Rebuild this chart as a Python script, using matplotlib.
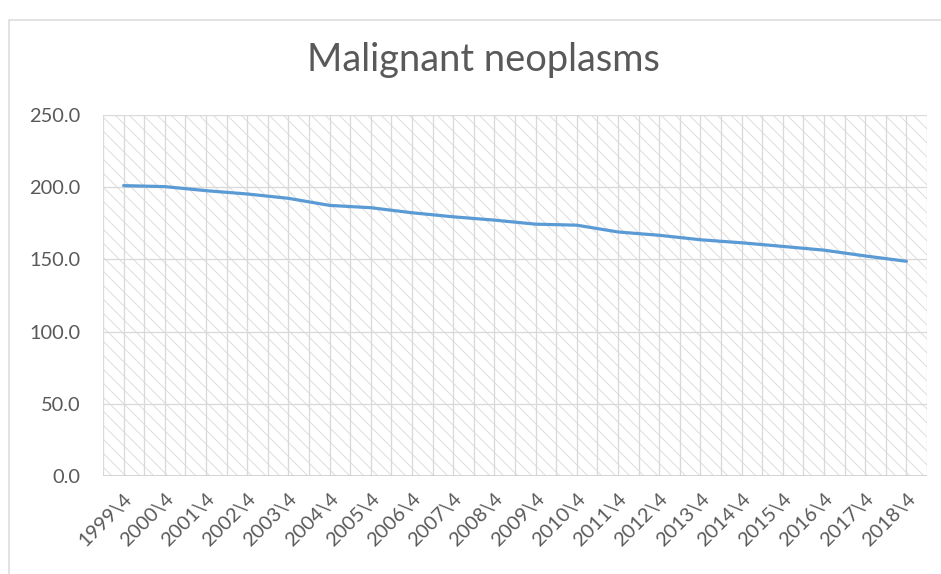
import matplotlib.pyplot as plt
from matplotlib.patches import Rectangle

# Values
years = ['1999\\4', '2000\\4', '2001\\4', '2002\\4', '2003\\4', '2004\\4',
         '2005\\4', '2006\\4', '2007\\4', '2008\\4', '2009\\4', '2010\\4',
         '2011\\4', '2012\\4', '2013\\4', '2014\\4', '2015\\4', '2016\\4',
         '2017\\4', '2018\\4']
rates = [201.1, 200.4, 197.6, 195.3, 192.3, 187.4, 185.8, 182.3, 179.5, 177.2,
         174.4, 173.7, 169.0, 166.7, 163.6, 161.5, 159.0, 156.4, 152.4, 148.7]
y_ticks = [0, 50, 100, 150, 200, 250]

DPI = 84
W, H = 942, 574
TXT = '#595959'
GRID = '#d9d9d9'

plt.rcParams['font.family'] = ['Lato', 'DejaVu Sans']
plt.rcParams['hatch.linewidth'] = 0.8
plt.rcParams['hatch.color'] = '#dcdcdc'


def px(p):
    # pixel -> points at this dpi
    return p * 72.0 / DPI


fig = plt.figure(figsize=(W / DPI, H / DPI), dpi=DPI)

# chart frame (only top and left edges visible in the crop)
fig.patches.append(Rectangle((9 / W, -0.1), 1.2, 1.1 - 20 / H,
                             transform=fig.transFigure, fill=False,
                             edgecolor='#d9d9d9', linewidth=px(1.5)))

ax = fig.add_axes([103 / W, 1 - 476 / H, (927 - 103) / W, (476 - 115) / H])
x = list(range(len(years)))

# hatched plot area
ax.add_patch(Rectangle((-0.5, 0), len(years), 250, facecolor='white',
                       hatch='\\\\', edgecolor='#dcdcdc', linewidth=0, zorder=0))

for v in y_ticks:
    ax.axhline(v, color=GRID, lw=px(1.3), zorder=1)
for i in range(2 * len(years) + 1):
    ax.axvline(-0.5 + i * 0.5, color=GRID, lw=px(1.3), zorder=1)
ax.axhline(0, color='#d0d0d0', lw=px(1.8), zorder=1)

ax.plot(x, rates, color='#5b9bd5', lw=px(3.2), solid_capstyle='round', zorder=3)

ax.set_xlim(-0.5, len(years) - 0.5)
ax.set_ylim(0, 250)
ax.set_yticks(y_ticks)
ax.set_yticklabels(['%.1f' % v for v in y_ticks])
ax.set_xticks(x)
ax.set_xticklabels(years, rotation=45, ha='right', rotation_mode='anchor')
ax.tick_params(axis='both', length=0, colors=TXT, labelsize=px(20))
ax.tick_params(axis='y', pad=px(23))
ax.tick_params(axis='x', pad=px(14))
for sp in ax.spines.values():
    sp.set_visible(False)

fig.text(483 / W, 1 - 60 / H, 'Malignant neoplasms', ha='center', va='center',
         color=TXT, fontsize=px(38))

fig.savefig('out.png', dpi=DPI)
